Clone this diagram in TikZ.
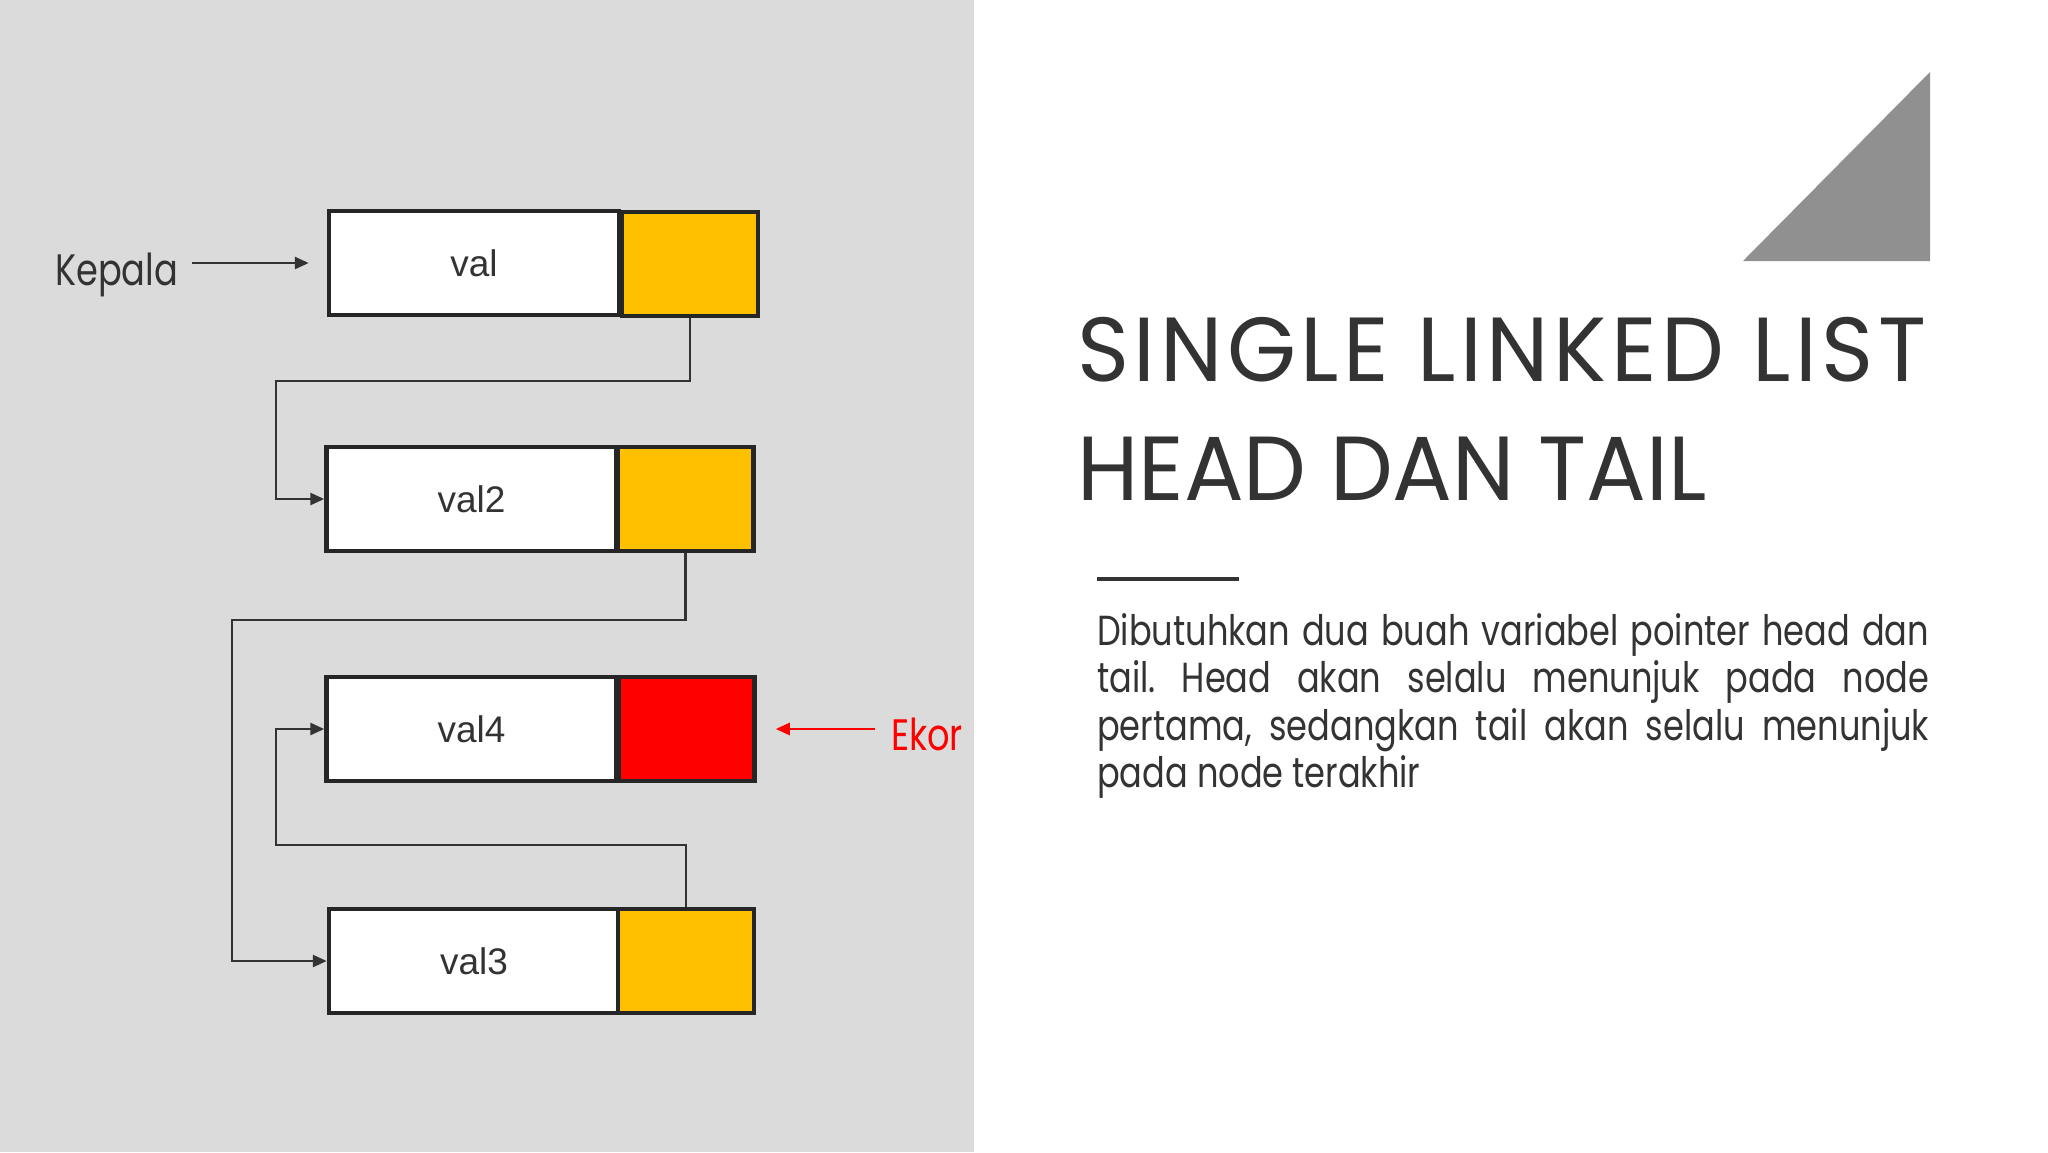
\documentclass[tikz,border=0pt]{standalone}
\usepackage{fontspec}
\usetikzlibrary{arrows.meta}
\newfontfamily\titlefont[FakeStretch=0.975]{Poppins}
\newfontfamily\bodyfont[FakeStretch=0.8]{Poppins}
\newfontfamily\valfont{Liberation Sans}
\definecolor{panel}{HTML}{DBDBDB}
\definecolor{ink}{HTML}{333333}
\definecolor{ptryellow}{HTML}{FFC000}
\definecolor{tailred}{HTML}{FF0000}
\definecolor{boxline}{HTML}{262626}
\definecolor{tri}{HTML}{909090}

\tikzset{
  valbox/.style={draw=boxline, line width=4.5pt, fill=white, minimum width=290pt,
    minimum height=104pt, inner sep=0pt, text=ink, font=\valfont\fontsize{37}{44}\selectfont},
  ptrbox/.style={draw=boxline, line width=4.5pt, fill=ptryellow, minimum width=136pt,
    minimum height=104pt, inner sep=0pt},
  link/.style={draw=ink, line width=2.7pt, -{Triangle[length=14pt,width=12pt]}},
  label/.style={inner sep=0pt, font=\bodyfont\fontsize{44}{48}\selectfont}
}

\begin{document}
\frenchspacing
\begin{tikzpicture}[x=1pt,y=-1pt]
\useasboundingbox (0,0) rectangle (2048,1152);
\fill[white] (0,0) rectangle (2048,1152);
\fill[panel] (0,0) rectangle (974,1152);

% list nodes
\node[valbox] (v1) at (474,263) {val};
\node[ptrbox] (p1) at (690,264) {};
\node[valbox] (v2) at (471.5,499) {val2};
\node[ptrbox] (p2) at (685.5,499) {};
\node[valbox] (v4) at (471.5,729) {val4};
\node[ptrbox,fill=tailred] (p4) at (686.5,729) {};
\node[valbox] (v3) at (474,961) {val3};
\node[ptrbox] (p3) at (686,961) {};

% pointers
\draw[link] (p1.south) |- (276,381) |- (v2.west);
\draw[link] (p2.south) |- (232,620) |- (v3.west);
\draw[link] (p3.north) |- (276,845) |- (v4.west);

\node[label,text=ink,anchor=base west] (kepala) at (55,285) {Kepala};
\draw[link] ([xshift=14pt]kepala.east |- v1.west) -- ([xshift=-18pt]v1.west);
\node[label,text=tailred,anchor=base west] (ekor) at (891,750) {Ekor};
\draw[link,draw=tailred] ([xshift=-16pt]ekor.west |- p4.east) -- ([xshift=19pt]p4.east);

% right side
\fill[tri] (1743,261) -- (1930,72) -- (1930,261) -- cycle;
\node[inner sep=0pt,anchor=base west,text=ink,
  font=\titlefont\fontsize{91}{100}\selectfont\addfontfeature{LetterSpace=5}]
  (title1) at (1077,381) {SINGLE LINKED LIST};
\node[inner sep=0pt,anchor=base west,text=ink,font=\titlefont\fontsize{91}{100}\selectfont]
  (title2) at (1077,500) {HEAD DAN TAIL};
\draw[ink,line width=4pt] (1097,579) -- (1239,579);
\node[inner sep=0pt,anchor=base west,text=ink,text width=832pt,align=justify,
  font=\bodyfont\fontsize{42}{47.5}\selectfont] (desc) at (1097,645)
  {Dibutuhkan dua buah variabel pointer head dan\linebreak tail. Head akan selalu menunjuk pada node\linebreak pertama, sedangkan tail akan selalu menunjuk\linebreak pada node terakhir};
\end{tikzpicture}
\end{document}
